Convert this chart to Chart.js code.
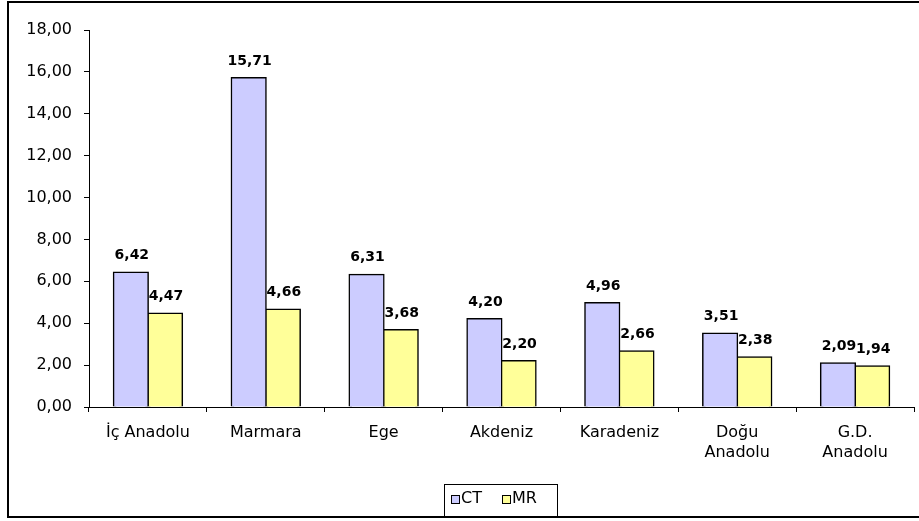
<!DOCTYPE html>
<html>
<head>
<meta charset="utf-8">
<script src="https://cdn.jsdelivr.net/npm/chart.js@4.4.0/dist/chart.umd.min.js"></script>
<style>
body{margin:0;background:#fff;}
#chart{display:block;}
</style>
</head>
<body>
<canvas id="chart" width="919" height="521"></canvas>
<script>
// data
const regions = ["İç Anadolu", "Marmara", "Ege", "Akdeniz", "Karadeniz", ["Doğu", "Anadolu"], ["G.D.", "Anadolu"]];
const ctValues = [6.42, 15.71, 6.31, 4.20, 4.96, 3.51, 2.09];
const mrValues = [4.47, 4.66, 3.68, 2.20, 2.66, 2.38, 1.94];
const yTicks = [0, 2, 4, 6, 8, 10, 12, 14, 16, 18];

const fmt = v => v.toFixed(2).replace(".", ",");
const FONT = "'DejaVu Sans', sans-serif";

// value labels above bars
const valueLabels = {
id: "valueLabels",
afterDatasetsDraw(chart) {
const ctx = chart.ctx;
ctx.save();
ctx.font = "bold 14px " + FONT;
ctx.fillStyle = "#000";
ctx.textAlign = "center";
ctx.textBaseline = "middle";
chart.data.datasets.forEach((ds, i) => {
chart.getDatasetMeta(i).data.forEach((bar, j) => {
ctx.fillText(fmt(ds.data[j]), bar.x + 1, bar.y - 17);
});
});
ctx.restore();
}
};

// outer frame + boxed legend
const frameAndLegend = {
id: "frameAndLegend",
afterDraw(chart) {
const ctx = chart.ctx;
ctx.save();
// legend
ctx.strokeStyle = "#000";
ctx.lineWidth = 1;
ctx.strokeRect(444.5, 484.5, 113, 32);
ctx.font = "16px " + FONT;
ctx.textBaseline = "middle";
ctx.textAlign = "left";
const items = [[451, 461], [502, 512]];
chart.data.datasets.forEach((ds, i) => {
const [bx, tx] = items[i];
ctx.fillStyle = ds.backgroundColor;
ctx.fillRect(bx, 495, 8, 8);
ctx.strokeRect(bx + 0.5, 495.5, 8, 8);
ctx.fillStyle = "#000";
ctx.fillText(ds.label, tx, 499);
});
// frame
ctx.lineWidth = 2;
ctx.strokeRect(8, 2, 920, 515);
ctx.restore();
}
};

new Chart(document.getElementById("chart"), {
type: "bar",
data: {
labels: regions,
datasets: [
{
label: "CT",
data: ctValues,
backgroundColor: "#CCCCFF",
borderColor: "#000",
borderWidth: 1.5,
inflateAmount: 1,
categoryPercentage: 0.58,
barPercentage: 1
},
{
label: "MR",
data: mrValues,
backgroundColor: "#FFFF99",
borderColor: "#000",
borderWidth: 1.5,
inflateAmount: 1,
categoryPercentage: 0.58,
barPercentage: 1
}
]
},
options: {
responsive: false,
animation: false,
layout: { padding: { left: 0, right: 5, top: 30, bottom: 54 } },
plugins: {
legend: { display: false },
tooltip: { enabled: false }
},
scales: {
x: {
grid: { display: true, drawOnChartArea: false, tickLength: 5, color: "#000", offset: true },
border: { display: true, color: "#000", width: 1 },
ticks: {
color: "#000",
font: { family: FONT, size: 16, lineHeight: 1.3 },
padding: 10,
maxRotation: 0,
autoSkip: false
},
afterFit(scale) { scale.height = 60; }
},
y: {
min: 0,
max: 18,
afterBuildTicks(scale) { scale.ticks = yTicks.map(v => ({ value: v })); },
grid: { display: true, drawOnChartArea: false, tickLength: 5, color: "#000" },
border: { display: true, color: "#000", width: 1 },
ticks: {
color: "#000",
font: { family: FONT, size: 16 },
padding: 12,
callback: v => fmt(v)
},
afterFit(scale) { scale.width = 89; }
}
}
},
plugins: [valueLabels, frameAndLegend]
});
</script>
</body>
</html>
